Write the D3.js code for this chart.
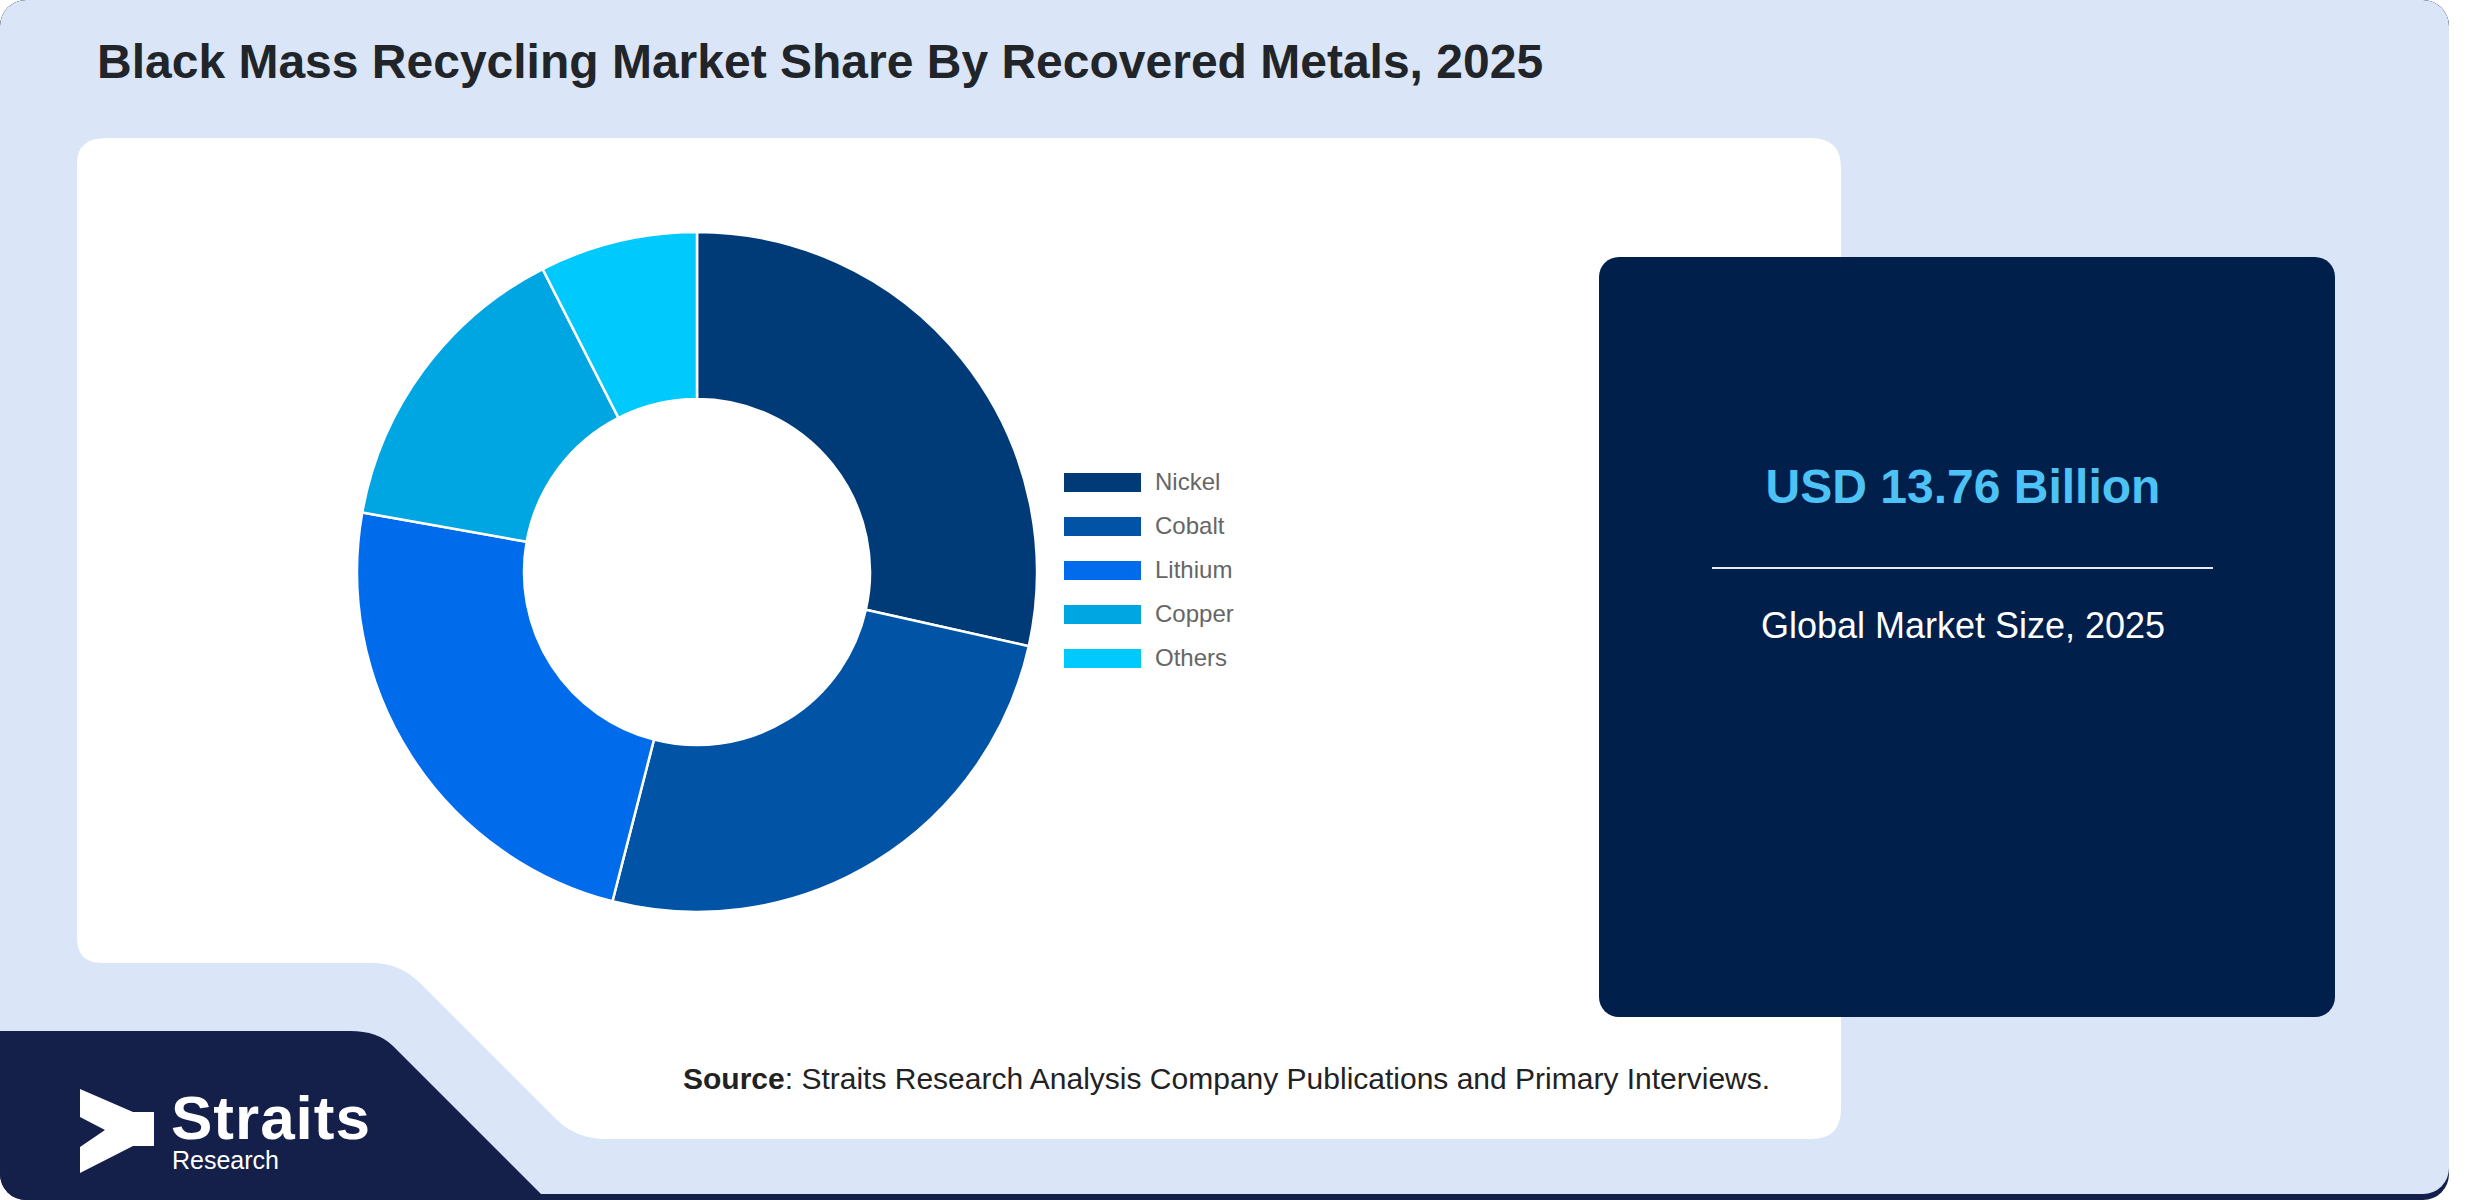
<!DOCTYPE html>
<html lang="en">
<head>
    <meta charset="UTF-8">
    <title>Black Mass Recycling Market Share</title>
    <script src="https://d3js.org/d3.v7.min.js"></script>
    <style>
        body { margin: 0; background: #ffffff; }
        text { font-family: "Liberation Sans", Arial, sans-serif; }
    </style>
</head>
<body>
    <script>
        // chart data
        var categories = ['Nickel', 'Cobalt', 'Lithium', 'Copper', 'Others'];
        var shares = [28.5, 25.5, 23.8, 14.7, 7.5];   // % share, 2025
        var sliceColors = ['#003b78', '#0053a5', '#006beb', '#00a6e2', '#00c9fd'];
        var marketSize = 'USD 13.76 Billion';
        var marketLabel = 'Global Market Size, 2025';

        var width = 2480;
        var height = 1200;

        var svg = d3.select('body')
                    .append('svg')
                    .attr('width', width)
                    .attr('height', height);

        // outer frame with a navy shadow at the bottom
        var defs = svg.append('defs');
        defs.append('clipPath').attr('id', 'frame')
            .append('rect')
            .attr('x', 0).attr('y', 0)
            .attr('width', 2449).attr('height', 1200)
            .attr('rx', 26);

        var frame = svg.append('g').attr('clip-path', 'url(#frame)');
        frame.append('rect')
             .attr('width', 2449).attr('height', 1200)
             .attr('fill', '#14204a');
        frame.append('rect')
             .attr('width', 2449).attr('height', 1194)
             .attr('rx', 26)
             .attr('fill', '#dae6f8');

        // navy logo block, bottom left
        var logoPath = d3.path();
        logoPath.moveTo(0, 1031);
        logoPath.lineTo(350, 1031);
        logoPath.quadraticCurveTo(378, 1031, 393, 1046);
        logoPath.lineTo(547, 1200);
        logoPath.lineTo(0, 1200);
        logoPath.closePath();
        frame.append('path').attr('d', logoPath.toString()).attr('fill', '#14204a');

        // white chart panel with notch at the bottom left
        var p = d3.path();
        p.moveTo(107, 138);
        p.lineTo(1811, 138);
        p.quadraticCurveTo(1841, 138, 1841, 168);
        p.lineTo(1841, 1109);
        p.quadraticCurveTo(1841, 1139, 1811, 1139);
        p.lineTo(606, 1139);
        p.quadraticCurveTo(576, 1139, 556, 1119);
        p.lineTo(420, 983);
        p.quadraticCurveTo(400, 963, 372, 963);
        p.lineTo(102, 963);
        p.quadraticCurveTo(77, 963, 77, 938);
        p.lineTo(77, 163);
        p.quadraticCurveTo(77, 138, 107, 138);
        p.closePath();
        svg.append('path').attr('d', p.toString()).attr('fill', '#ffffff');

        // title
        svg.append('text')
           .attr('x', 97).attr('y', 78)
           .attr('font-size', 48).attr('font-weight', 'bold')
           .attr('fill', '#212529')
           .text('Black Mass Recycling Market Share By Recovered Metals, 2025');

        // donut
        var color = d3.scaleOrdinal().domain(categories).range(sliceColors);
        var pie = d3.pie().sort(null).value(function(d) { return d.value; });
        var arc = d3.arc().innerRadius(173).outerRadius(340);
        var pieData = pie(categories.map(function(c, i) { return { name: c, value: shares[i] }; }));

        var donut = svg.append('g').attr('transform', 'translate(697, 572)');
        donut.selectAll('path')
             .data(pieData)
             .enter()
             .append('path')
             .attr('d', arc)
             .attr('fill', function(d) { return color(d.data.name); })
             .attr('stroke', '#ffffff')
             .attr('stroke-width', 2.5);

        // legend
        var legendY = d3.scaleBand().domain(categories).range([473, 473 + 44 * categories.length]);
        var legend = svg.append('g');
        var rows = legend.selectAll('g')
                         .data(categories)
                         .enter()
                         .append('g')
                         .attr('transform', function(d) { return 'translate(1064,' + legendY(d) + ')'; });
        rows.append('rect')
            .attr('width', 77).attr('height', 19)
            .attr('fill', function(d) { return color(d); });
        rows.append('text')
            .attr('x', 91).attr('y', 17)
            .attr('font-size', 24)
            .attr('fill', '#666666')
            .text(function(d) { return d; });

        // market size card
        svg.append('rect')
           .attr('x', 1599).attr('y', 257)
           .attr('width', 736).attr('height', 760)
           .attr('rx', 20)
           .attr('fill', '#011f4b');
        svg.append('text')
           .attr('x', 1963).attr('y', 503)
           .attr('text-anchor', 'middle')
           .attr('font-size', 48).attr('font-weight', 'bold')
           .attr('fill', '#4dc3f5')
           .text(marketSize);
        svg.append('line')
           .attr('x1', 1712).attr('x2', 2213)
           .attr('y1', 568).attr('y2', 568)
           .attr('stroke', '#e6e9ef').attr('stroke-width', 2);
        svg.append('text')
           .attr('x', 1963).attr('y', 638)
           .attr('text-anchor', 'middle')
           .attr('font-size', 36)
           .attr('fill', '#ffffff')
           .text(marketLabel);

        // source line
        var src = svg.append('text')
                     .attr('x', 683).attr('y', 1089)
                     .attr('font-size', 30)
                     .attr('fill', '#222222');
        src.append('tspan').attr('font-weight', 'bold').text('Source');
        src.append('tspan').text(': Straits Research Analysis Company Publications and Primary Interviews.');

        // logo
        svg.append('path')
           .attr('d', 'M80,1089 L133,1112 L154,1112 L154,1146 L133,1146 L80,1173 L80,1147 L105,1130 L80,1117 Z')
           .attr('fill', '#ffffff');
        svg.append('text')
           .attr('x', 171).attr('y', 1139)
           .attr('font-family', '"Open Sans", sans-serif')
           .attr('font-size', 62).attr('font-weight', 'bold')
           .attr('letter-spacing', 1)
           .attr('fill', '#ffffff')
           .text('Straits');
        svg.append('text')
           .attr('x', 172).attr('y', 1169)
           .attr('font-family', '"Open Sans", sans-serif')
           .attr('font-size', 25)
           .attr('fill', '#ffffff')
           .text('Research');
    </script>
</body>
</html>
